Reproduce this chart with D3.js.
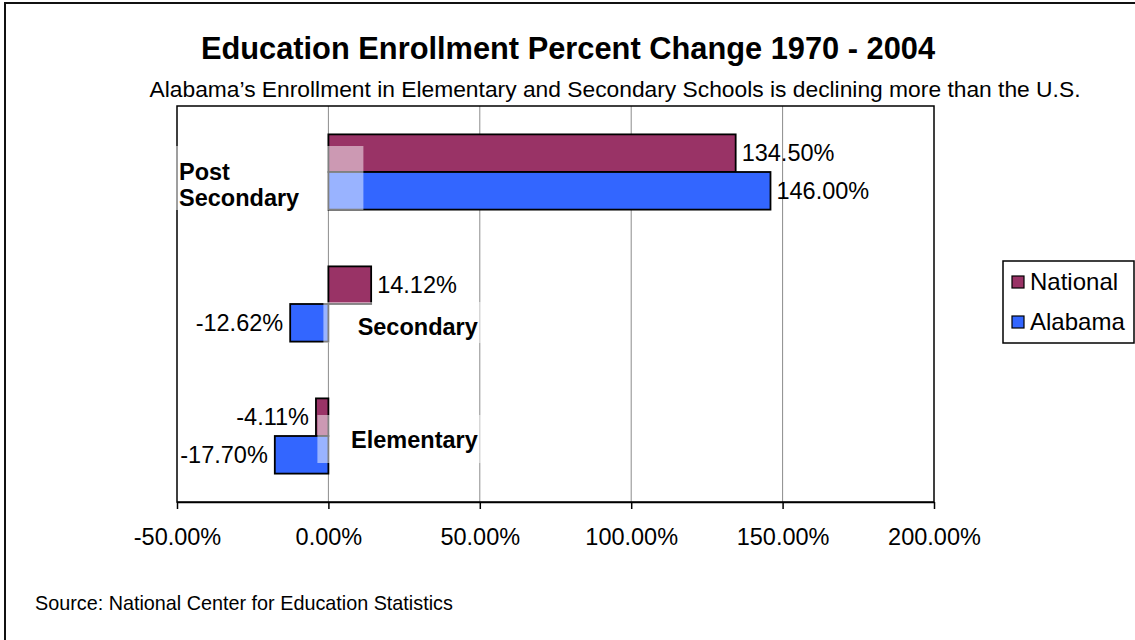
<!DOCTYPE html>
<html>
<head>
<meta charset="utf-8">
<script src="https://cdn.jsdelivr.net/npm/d3@7"></script>
<style>
  html, body { margin: 0; padding: 0; background: #fff; }
  svg { display: block; font-family: "Liberation Sans", Arial, sans-serif; }
</style>
</head>
<body>
<svg id="chart" width="1135" height="640"></svg>
<script>
// Enrollment percent change, 1970 - 2004
const categories = ["Post Secondary", "Secondary", "Elementary"];
const seriesNames = ["National", "Alabama"];
const nationalValues = [134.50, 14.12, -4.11];
const alabamaValues = [146.00, -12.62, -17.70];
const tickValues = [-50, 0, 50, 100, 150, 200];
const tickLabels = ["-50.00%", "0.00%", "50.00%", "100.00%", "150.00%", "200.00%"];

const colors = { National: "#993366", Alabama: "#3366FF" };

const svg = d3.select("#chart");
const plot = { left: 177, right: 934, top: 106, bottom: 502 };
const fontSize = 23.5;

// outer chart border
svg.append("rect")
  .attr("x", 5).attr("y", 3).attr("width", 1140).attr("height", 660)
  .attr("fill", "#fff").attr("stroke", "#111").attr("stroke-width", 2);

// titles
svg.append("text")
  .attr("x", 568).attr("y", 59).attr("text-anchor", "middle")
  .attr("font-size", 30.8).attr("font-weight", "bold")
  .text("Education Enrollment Percent Change 1970 - 2004");
svg.append("text")
  .attr("x", 615).attr("y", 97).attr("text-anchor", "middle")
  .attr("font-size", 22.8)
  .text("Alabama\u2019s Enrollment in Elementary and Secondary Schools is declining more than the U.S.");

const x = d3.scaleLinear().domain([-50, 200]).range([plot.left, plot.right]);
const y = d3.scaleBand().domain(categories).range([plot.top, plot.bottom])
  .paddingInner(0.43).paddingOuter(0.215);
const ySub = d3.scaleBand().domain(seriesNames).range([0, y.bandwidth()]);

const rows = categories.map((c, i) => ({
  category: c,
  values: [
    { series: "National", value: nationalValues[i] },
    { series: "Alabama", value: alabamaValues[i] }
  ]
}));

// vertical gridlines
svg.append("g").selectAll("line")
  .data(tickValues.filter(t => t > -50 && t < 200))
  .join("line")
  .attr("x1", d => x(d)).attr("x2", d => x(d))
  .attr("y1", plot.top).attr("y2", plot.bottom)
  .attr("stroke", "#8c8c8c").attr("stroke-width", 1);

// bars
const groups = svg.append("g").selectAll("g")
  .data(rows).join("g")
  .attr("transform", d => `translate(0,${y(d.category)})`);

groups.selectAll("rect")
  .data(d => d.values).join("rect")
  .attr("x", d => x(Math.min(0, d.value)))
  .attr("y", d => ySub(d.series))
  .attr("width", d => Math.abs(x(d.value) - x(0)))
  .attr("height", ySub.bandwidth())
  .attr("fill", d => colors[d.series])
  .attr("stroke", "#000").attr("stroke-width", 1.8);

// value labels
groups.selectAll("text")
  .data(d => d.values).join("text")
  .attr("x", d => d.value >= 0 ? x(d.value) + 6 : x(d.value) - 7)
  .attr("y", d => ySub(d.series) + ySub.bandwidth() / 2)
  .attr("dy", "0.35em")
  .attr("text-anchor", d => d.value >= 0 ? "start" : "end")
  .attr("font-size", fontSize)
  .text(d => d.value.toFixed(2) + "%");

// plot frame
svg.append("rect")
  .attr("x", plot.left).attr("y", plot.top)
  .attr("width", plot.right - plot.left).attr("height", plot.bottom - plot.top)
  .attr("fill", "none").attr("stroke", "#000").attr("stroke-width", 1.5);

// category labels with translucent backgrounds
const labelLayout = {
  "Post Secondary": { lines: ["Post", "Secondary"], anchor: "start", tx: x(-50) + 2, ty: 8, box: [x(-50) - 7, x(0) + 35, -26, 38] },
  "Secondary": { lines: ["Secondary"], anchor: "end", tx: x(50) - 2, ty: 31, box: [x(0) - 5, x(50) + 1, -2, 39] },
  "Elementary": { lines: ["Elementary"], anchor: "end", tx: x(50) - 2, ty: 12, box: [x(0) - 11, x(50) + 1, -21, 27] }
};
const catG = svg.append("g");
categories.forEach(c => {
  const L = labelLayout[c];
  const cy = y(c) + y.bandwidth() / 2;
  catG.append("rect")
    .attr("x", L.box[0]).attr("width", L.box[1] - L.box[0])
    .attr("y", cy + L.box[2]).attr("height", L.box[3] - L.box[2])
    .attr("fill", "#fff").attr("fill-opacity", 0.5);
  const t = catG.append("text")
    .attr("x", L.tx).attr("y", cy + L.ty)
    .attr("text-anchor", L.anchor)
    .attr("font-size", fontSize).attr("font-weight", "bold");
  L.lines.forEach((ln, i) => {
    t.append("tspan").attr("x", L.tx).attr("dy", i === 0 ? 0 : 26).text(ln);
  });
});

// x axis
const axis = d3.axisBottom(x)
  .tickValues(tickValues)
  .tickFormat((d, i) => tickLabels[i])
  .tickSizeInner(7).tickSizeOuter(0).tickPadding(19);
const ax = svg.append("g")
  .attr("transform", `translate(0,${plot.bottom})`)
  .call(axis);
ax.select(".domain").attr("stroke", "#000").attr("stroke-width", 1.5);
ax.selectAll(".tick line").attr("stroke", "#000").attr("stroke-width", 1.5);
ax.selectAll(".tick text")
  .attr("font-family", "Liberation Sans, Arial, sans-serif")
  .attr("font-size", fontSize).attr("fill", "#000");

// legend
const lg = svg.append("g").attr("transform", "translate(1003,261)");
lg.append("rect").attr("width", 131).attr("height", 82)
  .attr("fill", "#fff").attr("stroke", "#000").attr("stroke-width", 1.5);
seriesNames.forEach((s, i) => {
  const cy = 21 + i * 40;
  lg.append("rect")
    .attr("x", 9).attr("y", cy - 6).attr("width", 12).attr("height", 12)
    .attr("fill", colors[s]).attr("stroke", "#000").attr("stroke-width", 1.2);
  lg.append("text")
    .attr("x", 27).attr("y", cy).attr("dy", "0.35em")
    .attr("font-size", 24).text(s);
});

// source note
svg.append("text")
  .attr("x", 35).attr("y", 610)
  .attr("font-size", 19.8)
  .text("Source: National Center for Education Statistics");
</script>
</body>
</html>
